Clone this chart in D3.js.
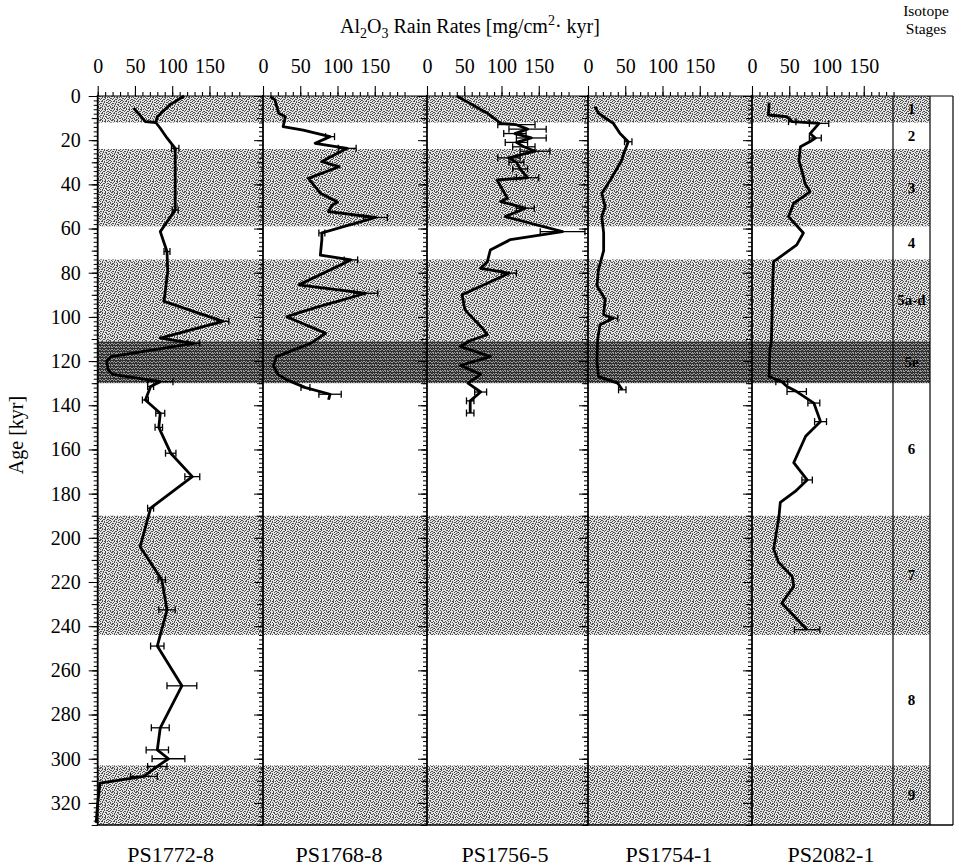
<!DOCTYPE html>
<html>
<head>
<meta charset="utf-8">
<script src="https://cdn.jsdelivr.net/npm/d3@7"></script>
<style>
  body { margin: 0; background: #fff; }
  svg text { font-family: "Liberation Serif", "DejaVu Serif", serif !important; fill: #000; }
</style>
</head>
<body>
<svg id="chart" width="960" height="868"></svg>
<script>
// ---- data ---------------------------------------------------------------
const coreNames = ["PS1772-8", "PS1768-8", "PS1756-5", "PS1754-1", "PS2082-1"];
const rateTickLabels = [0, 50, 100, 150];
const ageTickLabels = d3.range(0, 321, 20);

// marine isotope stages (kyr)
const stageFrom  = [0, 12, 24, 59, 74, 111, 130, 190, 244, 303];
const stageTo    = [12, 24, 59, 74, 111, 130, 190, 244, 303, 330];
const stageShade = ["light", "none", "light", "none", "light", "dark", "none", "light", "none", "light"];
const stageNames = ["1", "2", "3", "4", "5a-d", "5e", "6", "7", "8", "9"];

// Al2O3 rain rates: [age kyr, rate mg/cm2 kyr, error half-width]
const ps1772 = [
  [0, 116, 0], [4, 97, 0], [9.4, 80, 0], [12, 78, 0], [14.6, 84, 0], [19, 93, 0],
  [23.7, 104, 5], [36.5, 104, 0], [51.6, 104, 4], [61.4, 84, 0], [70.4, 93, 4],
  [79.5, 94, 0], [93, 89, 0], [102, 168, 8], [109.6, 84, 0], [112, 129, 8],
  [118, 18, 0], [120, 12, 0], [124, 14, 0], [126, 20, 0], [129.3, 84, 17],
  [131.5, 71, 4], [137.6, 64, 4], [143.6, 84, 6], [150, 82, 5], [161.7, 98, 7],
  [172.3, 127, 10], [186.6, 71, 4], [204, 57, 0], [219, 86, 5], [232.6, 93, 11],
  [249, 80, 9], [267, 113, 20], [286, 84, 12], [296, 80, 15], [300, 95, 22],
  [303.5, 80, 13], [308, 62, 18], [311, 3, 0], [320, 0, 0], [329, -2, 0]
];
const ps1772Top = [[5.5, 48, 0], [8, 55, 0], [11.6, 64, 0], [12, 78, 0]];

const ps1768 = [
  [0.3, 10, 0], [1.8, 16, 0], [7.8, 21, 0], [9.4, 30, 0], [13.9, 27, 0],
  [15.4, 54, 0], [18.4, 90, 6], [21.4, 70, 0], [23.7, 113, 12], [29.7, 79, 0],
  [32, 102, 0], [37.3, 61, 0], [44, 77, 0], [48, 100, 0], [49.3, 93, 0],
  [52.3, 88, 0], [55, 151, 16], [62, 79, 4], [65, 79, 0], [72, 77, 0],
  [74.2, 118, 9], [85.5, 48, 0], [89.3, 138, 16], [96, 68, 0], [99.9, 32, 0],
  [107.4, 84, 0], [112, 64, 0], [118, 18, 0], [122, 14, 0], [126, 20, 0],
  [128.5, 32, 0], [132, 57, 6], [135, 90, 15], [137.5, 88, 0]
];

const ps1756 = [
  [0, 40, 0], [7.8, 81, 0], [12.4, 99, 0], [13, 120, 25], [15, 135, 25],
  [17, 118, 15], [19, 140, 20], [21, 120, 15], [23, 130, 15], [25, 145, 20],
  [28, 110, 15], [30, 120, 10], [33, 125, 10], [37, 135, 15], [38, 94, 0],
  [46.3, 108, 0], [47.8, 99, 0], [50.8, 132, 12], [54.6, 105, 0],
  [61.4, 182, 30], [65, 112, 0], [69.7, 85, 0], [75, 81, 0], [78, 72, 0],
  [80.2, 110, 10], [84.8, 81, 0], [90, 47, 0], [96.8, 51, 0], [105, 74, 0],
  [108, 81, 0], [111, 56, 0], [113.4, 45, 0], [118, 85, 0], [122, 45, 0],
  [126, 72, 0], [130, 55, 0], [134, 72, 8], [138, 58, 5], [143.5, 58, 5]
];

const ps1754 = [
  [4.8, 9.5, 0], [7.8, 14, 0], [12.4, 34, 0], [17, 43, 0], [20.7, 54, 5],
  [26, 48, 0], [29, 45.5, 0], [38, 30, 0], [44, 18.5, 0], [50, 23, 0],
  [54.6, 18.5, 0], [62, 21, 0], [70, 21, 0], [78.7, 14, 0], [86, 12, 0],
  [92, 23, 0], [99, 21, 0], [100.6, 34, 6], [103.6, 16, 0], [110, 13, 0],
  [120, 12, 0], [127, 14, 0], [130, 40, 0], [133, 46, 5]
];

const ps2082 = [
  [3, 23, 0], [8.6, 22, 0], [9.4, 47, 0], [11.6, 54, 5], [12.4, 90, 13],
  [17, 78, 0], [19, 85, 8], [20.6, 78, 0], [23, 65, 0], [29, 63, 0],
  [36.5, 69, 0], [39.5, 71, 0], [43.3, 78, 0], [48.6, 56, 0], [54.6, 49, 0],
  [62, 69, 0], [67.4, 60, 0], [75, 29, 0], [82, 28, 0], [99, 27, 0],
  [111, 26, 0], [115, 24, 0], [127, 23, 0], [129.3, 40, 8], [131.5, 47, 0],
  [133.8, 60, 13], [139, 83, 8], [147.4, 92, 8], [154, 72, 0], [166, 56, 0],
  [173.8, 74, 7], [179, 58, 0], [184, 38, 0], [191, 36, 0], [205, 29, 0],
  [211, 35.5, 0], [217.5, 54, 0], [222, 56, 0], [229.6, 40, 0], [241.6, 74, 17]
];

const coreSeries = [[ps1772, ps1772Top], [ps1768], [ps1756], [ps1754], [ps2082]];

// ---- layout -------------------------------------------------------------
const serif = '"Liberation Serif", "DejaVu Serif", serif';
const plotTop = 96, plotBottom = 825;
const panelLeft = [97.7, 263, 427, 588, 752];
const panelRight = [263, 427, 588, 752, 893];
const nameOffset = [73, 76, 78, 81, 79];
const stageRight = 930, boxRight = 953;
const pxPerUnit = 0.745;

const svg = d3.select("#chart");
const y = d3.scaleLinear().domain([0, 330]).range([plotTop, plotBottom]);
const xs = panelLeft.map(l => d3.scaleLinear().domain([0, 200]).range([l, l + 200 * pxPerUnit]));

// ---- stipple fills --------------------------------------------------------
const defs = svg.append("defs");
function stipple(id, base, ink, rows) {
  const p = defs.append("pattern").attr("id", id)
    .attr("patternUnits", "userSpaceOnUse")
    .attr("width", rows[0].length).attr("height", rows.length);
  p.append("rect").attr("width", rows[0].length).attr("height", rows.length).attr("fill", base);
  rows.forEach((r, j) => r.split("").forEach((c, i) => {
    if (c === "X") p.append("rect").attr("x", i).attr("y", j).attr("width", 1).attr("height", 1).attr("fill", ink);
  }));
}
stipple("light", "#e4e4e4", "#505050", [
  "X..XX.X..X..",
  ".X....X.XX.X",
  "..XX.X...X..",
  "X...X..XX..X",
  ".XX...X...X.",
  "X..X.XX.X...",
  "..X.....X.XX",
  "XX..XX.X....",
  "...X...X.XX.",
  ".X..X.X...X.",
  "X.X...X.X..X",
  "..X.XX...X.."
]);
stipple("dark", "#9a9a9a", "#303030", [
  "XXXXXXXXXXXX",
  "X.X..X.XX..X",
  ".X.XX.X..XX.",
  "XXXXXXXXXXXX",
  "..X.X..X.X.X",
  "X.X..XX...X."
]);

// ---- stage bands ---------------------------------------------------------
const bands = stageFrom.map((f, i) => ({ from: f, to: stageTo[i], shade: stageShade[i], name: stageNames[i] }));
svg.append("g").selectAll("rect")
  .data(bands.filter(b => b.shade !== "none"))
  .join("rect")
  .attr("x", panelLeft[0]).attr("width", stageRight - panelLeft[0])
  .attr("y", d => y(d.from)).attr("height", d => y(d.to) - y(d.from))
  .attr("fill", d => `url(#${d.shade})`);

// stage labels
svg.append("g").selectAll("text")
  .data(bands).join("text")
  .attr("x", (panelRight[4] + stageRight) / 2)
  .attr("y", d => y((d.from + d.to) / 2) + 5)
  .attr("text-anchor", "middle")
  .attr("font-size", 15).attr("font-weight", "bold")
  .style("font-family", serif)
  .text(d => d.name);

// ---- frames --------------------------------------------------------------
const frame = svg.append("g").attr("stroke", "#000").attr("fill", "none");
frame.append("line").attr("x1", panelLeft[0]).attr("x2", boxRight).attr("y1", plotTop).attr("y2", plotTop).attr("stroke-width", 1.2);
frame.append("line").attr("x1", panelLeft[0]).attr("x2", boxRight).attr("y1", plotBottom).attr("y2", plotBottom).attr("stroke-width", 1.5);
[panelRight[4], stageRight, boxRight].forEach(xv =>
  frame.append("line").attr("x1", xv).attr("x2", xv).attr("y1", plotTop).attr("y2", plotBottom).attr("stroke-width", 1.2));

// ---- axes per panel ---------------------------------------------------------
panelLeft.forEach((l, i) => {
  const x = xs[i];
  // top rate axis: minor and major ticks
  const gMinor = svg.append("g").attr("transform", `translate(0,${plotTop})`)
    .call(d3.axisTop(x).tickValues(d3.range(0, 191, 10)).tickSize(4).tickFormat(""));
  const gMajor = svg.append("g").attr("transform", `translate(0,${plotTop})`)
    .call(d3.axisTop(x).tickValues(rateTickLabels).tickSize(10).tickPadding(13));
  [gMinor, gMajor].forEach(g => {
    g.attr("font-family", null);
    g.select(".domain").remove();
    g.selectAll("line").attr("stroke", "#000").attr("stroke-width", 1.1);
  });
  gMajor.selectAll("text").attr("font-size", 20).style("font-family", serif);

  // left age axis
  const gA = svg.append("g").attr("transform", `translate(${l},0)`)
    .call(d3.axisLeft(y).tickValues(d3.range(0, 331, 2)).tickSize(4).tickFormat(""));
  const gB = svg.append("g").attr("transform", `translate(${l},0)`)
    .call(d3.axisLeft(y).tickValues(d3.range(0, 331, 10)).tickSize(6).tickFormat(""));
  const gC = svg.append("g").attr("transform", `translate(${l},0)`)
    .call(d3.axisLeft(y).tickValues(ageTickLabels).tickSize(9).tickPadding(8)
      .tickFormat(i === 0 ? d3.format("d") : ""));
  [gA, gB, gC].forEach(g => {
    g.attr("font-family", null);
    g.select(".domain").remove();
    g.selectAll("line").attr("stroke", "#000").attr("stroke-width", 1);
  });
  gC.selectAll("text").attr("font-size", 20).style("font-family", serif);
  svg.append("line").attr("x1", l).attr("x2", l).attr("y1", plotTop - 1).attr("y2", plotBottom)
    .attr("stroke", "#000").attr("stroke-width", 1.8);

  // core name under the panel
  svg.append("text").attr("x", l + nameOffset[i]).attr("y", 862)
    .attr("text-anchor", "middle").attr("font-size", 22).style("font-family", serif)
    .text(coreNames[i]);
});

// ---- rain-rate curves ------------------------------------------------------
coreSeries.forEach((list, i) => {
  const x = xs[i];
  const g = svg.append("g");
  list.forEach(series => {
    const line = d3.line().x(d => x(d[1])).y(d => y(d[0]));
    g.append("path").datum(series).attr("d", line)
      .attr("fill", "none").attr("stroke", "#000").attr("stroke-width", 2.8)
      .attr("stroke-linejoin", "round");
    const eb = series.filter(d => d[2] > 0);
    const ge = g.append("g").attr("stroke", "#000").attr("stroke-width", 1.3);
    ge.selectAll(".bar").data(eb).join("line").attr("class", "bar")
      .attr("x1", d => x(d[1] - d[2])).attr("x2", d => x(d[1] + d[2]))
      .attr("y1", d => y(d[0])).attr("y2", d => y(d[0]));
    ge.selectAll(".capL").data(eb).join("line").attr("class", "capL")
      .attr("x1", d => x(d[1] - d[2])).attr("x2", d => x(d[1] - d[2]))
      .attr("y1", d => y(d[0]) - 3.5).attr("y2", d => y(d[0]) + 3.5);
    ge.selectAll(".capR").data(eb).join("line").attr("class", "capR")
      .attr("x1", d => x(d[1] + d[2])).attr("x2", d => x(d[1] + d[2]))
      .attr("y1", d => y(d[0]) - 3.5).attr("y2", d => y(d[0]) + 3.5);
  });
});

// ---- titles ----------------------------------------------------------------
const title = svg.append("text").attr("x", 470).attr("y", 33).attr("text-anchor", "middle")
  .attr("font-size", 20).style("font-family", serif);
title.append("tspan").text("Al");
title.append("tspan").attr("font-size", 14).attr("dy", 5).text("2");
title.append("tspan").attr("dy", -5).text("O");
title.append("tspan").attr("font-size", 14).attr("dy", 5).text("3");
title.append("tspan").attr("dy", -5).text(" Rain Rates [mg/cm");
title.append("tspan").attr("font-size", 14).attr("dy", -8).text("2");
title.append("tspan").attr("dy", 8).text("\u00b7 kyr]");

svg.append("text").attr("x", 926).attr("y", 16).attr("text-anchor", "middle").attr("font-size", 15.5)
  .style("font-family", serif).text("Isotope");
svg.append("text").attr("x", 926).attr("y", 34).attr("text-anchor", "middle").attr("font-size", 15.5)
  .style("font-family", serif).text("Stages");

svg.append("text").attr("transform", "translate(23,435) rotate(-90)")
  .attr("text-anchor", "middle").attr("font-size", 20).style("font-family", serif).text("Age [kyr]");
</script>
</body>
</html>
